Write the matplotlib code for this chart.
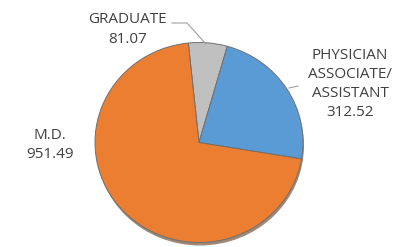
import matplotlib
matplotlib.use("Agg")
import matplotlib.pyplot as plt
from matplotlib.patches import Circle
from matplotlib.lines import Line2D

categories = ["GRADUATE", "PHYSICIAN\nASSOCIATE/\nASSISTANT", "M.D."]
values = [81.07, 312.52, 951.49]
value_labels = ["81.07", "312.52", "951.49"]
colors = ["#C0C0C0", "#5B9BD5", "#EC7E32"]

W, H = 396, 247
fig = plt.figure(figsize=(W / 100, H / 100), dpi=100)
ax = fig.add_axes([0, 0, 1, 1])

k = 100 / 104.0  # vertical squash of the pie
cx, cy_px, r = 199, 142.5, 104
cy = (H - cy_px) / k
ax.add_patch(Circle((cx + 1, cy - 3 / k), r, color="#5a3a1e", alpha=0.6, zorder=0, lw=0))
wedges, _ = ax.pie(values, colors=colors, startangle=95.9, counterclock=False,
                   center=(cx, cy), radius=r,
                   wedgeprops=dict(edgecolor="#707070", linewidth=0.7))
ax.set_xlim(0, W)
ax.set_ylim(0, H / k)
ax.set_aspect("auto")
ax.axis("off")


def px(x, y):
    return x / W, (H - y) / H


font = dict(family="Open Sans", fontsize=11, color="#404040", ha="center", va="center",
            linespacing=1.37)
fig.text(*px(127.5, 29.5), categories[0] + "\n" + value_labels[0], **font)
fig.text(*px(350, 84), categories[1] + "\n" + value_labels[1], **font)
fig.text(*px(50, 145), categories[2] + "\n" + value_labels[2], **font)

# leader lines
for xs, ys in [([172, 187, 206], [23, 23, 44]), ([289, 298], [88, 86])]:
    xf = [x / W for x in xs]
    yf = [(H - y) / H for y in ys]
    fig.add_artist(Line2D(xf, yf, color="#a0a0a0", lw=0.8))

fig.savefig("out.png", dpi=100)
